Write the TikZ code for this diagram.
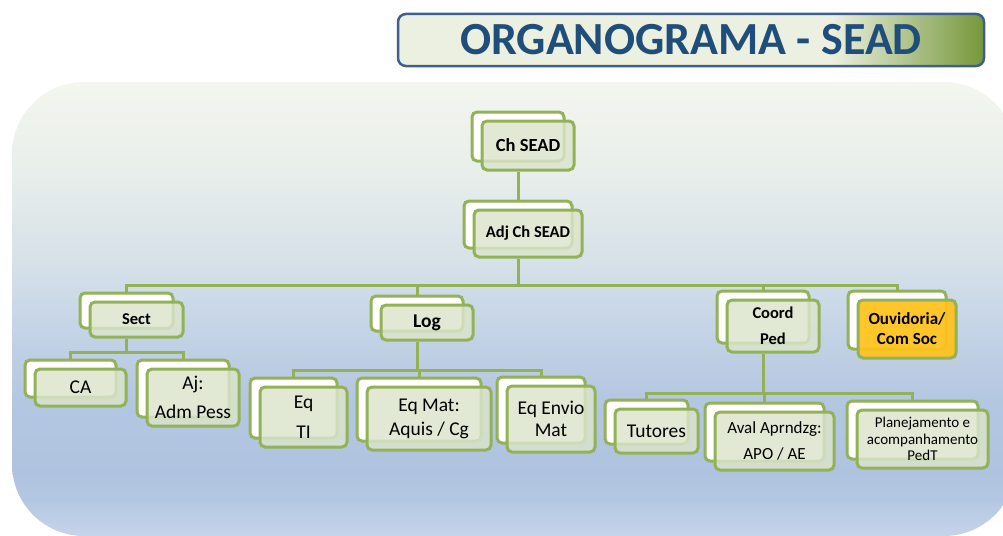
\documentclass[tikz,border=0pt]{standalone}
\usepackage{fontspec}
\setmainfont{Carlito}
\usetikzlibrary{shadows}

\definecolor{linegrn}{HTML}{93B257}
\definecolor{boxgrn}{HTML}{DBE5CB}
\definecolor{ouvyel}{HTML}{FFC21A}
\definecolor{ttlblue}{HTML}{1F4E7A}
\definecolor{ttlframe}{HTML}{3C5F8E}
\definecolor{ttlA}{HTML}{EBF0E0}
\definecolor{ttlB}{HTML}{76973A}
\definecolor{bgA}{HTML}{C6D4EA}
\definecolor{bgB}{HTML}{B4C7E2}
\definecolor{bgC}{HTML}{AFC3E0}
\definecolor{bgD}{HTML}{B4C7E1}
\definecolor{bgE}{HTML}{C5D4E6}
\definecolor{bgF}{HTML}{D8E2E8}
\definecolor{bgG}{HTML}{E9EFEB}
\definecolor{bgH}{HTML}{F4F6EF}

\pgfdeclareverticalshading{panelshade}{100bp}{color(0bp)=(bgA); color(25bp)=(bgA);
  color(29bp)=(bgB); color(32bp)=(bgC); color(40bp)=(bgD); color(48bp)=(bgE);
  color(56bp)=(bgF); color(66bp)=(bgG); color(75bp)=(bgH); color(100bp)=(bgH)}
\pgfdeclarehorizontalshading{titleshade}{100bp}{color(0bp)=(ttlA); color(62bp)=(ttlA);
  color(75bp)=(ttlB); color(100bp)=(ttlB)}

\begin{document}
\begin{tikzpicture}[x=1pt,y=-1pt,
    orgbox/.style={draw=linegrn, line width=3pt, rounded corners=5pt, fill=boxgrn,
      fill opacity=.82, text opacity=1, inner sep=0pt, align=center,
      general shadow={shadow xshift=-10pt, shadow yshift=9pt, fill=white,
        fill opacity=1, draw=linegrn, line width=3pt}},
    conn/.style={draw=linegrn, line width=3pt}]

  \useasboundingbox (0,0) rectangle (1003,535);
  \clip (0,0) rectangle (1003,535);

  % panel and title
  \shade[shading=panelshade, rounded corners=72pt] (12,82) rectangle (1016,536);
  \node (title) at (691,40) [draw=ttlframe, line width=2.5pt, rounded corners=8pt,
    shading=titleshade, minimum width=586pt, minimum height=52pt, inner sep=0pt,
    text=ttlblue, font=\bfseries\fontsize{46}{54}\selectfont] {ORGANOGRAMA - SEAD};

  \begin{scope}[every node/.style=orgbox]
    \node (ch)    at (528,145.5) [minimum width=92pt, minimum height=49pt,
      font=\bfseries\fontsize{18.5}{22}\selectfont] {Ch SEAD};
    \node (adj)   at (528,233.5) [minimum width=108pt, minimum height=47pt,
      font=\bfseries\fontsize{16.5}{20}\selectfont] {Adj Ch SEAD};

    \node (sect)  at (136.5,319.5) [minimum width=93pt, minimum height=35pt,
      font=\bfseries\fontsize{16.5}{20}\selectfont] {Sect};
    \node (log)   at (427,322.5) [minimum width=92pt, minimum height=35pt,
      font=\bfseries\fontsize{19.5}{23}\selectfont] {Log};
    \node (coord) at (773,326) [minimum width=92pt, minimum height=52pt,
      font=\bfseries\fontsize{16.5}{26}\selectfont] {Coord\\Ped};
    \node (ouv)   at (907,329) [minimum width=98pt, minimum height=58pt, fill=ouvyel,
      fill opacity=.92, font=\bfseries\fontsize{17}{20}\selectfont] {Ouvidoria/\\Com Soc};

    \node (ca)    at (80.5,387.5) [minimum width=91pt, minimum height=37pt,
      font=\fontsize{19.5}{24}\selectfont] {CA};
    \node (aj)    at (193,397.5) [minimum width=92pt, minimum height=57pt,
      font=\fontsize{19.5}{29}\selectfont] {Aj:\\Adm Pess};

    \node (eqti)  at (303.5,417) [minimum width=87pt, minimum height=60pt,
      font=\fontsize{19.5}{30}\selectfont] {Eq\\TI};
    \node (eqmat) at (429,418.5) [minimum width=124pt, minimum height=63pt,
      font=\fontsize{19.5}{24}\selectfont] {Eq Mat:\\Aquis / Cg};
    \node (eqenv) at (551,419) [minimum width=88pt, minimum height=66pt,
      font=\fontsize{19.5}{22.5}\selectfont] {Eq Envio\\Mat};

    \node (tut)   at (656.5,431) [minimum width=83pt, minimum height=44pt,
      font=\fontsize{19.5}{24}\selectfont] {Tutores};
    \node (aval)  at (774.5,441) [minimum width=119pt, minimum height=58pt,
      font=\fontsize{17}{26}\selectfont] {Aval Aprndzg:\\APO / AE};
    \node (plan)  at (922.5,439) [minimum width=131pt, minimum height=58pt,
      font=\fontsize{15}{16.5}\selectfont] {Planejamento e\\acompanhamento\\PedT};
  \end{scope}

  % connectors
  \draw[conn] ([xshift=-10pt]ch.south) -- ([xshift=-10pt,yshift=9pt]adj.north);

  \draw[conn] ([xshift=-10pt]adj.south) -- ++(0,27) -| ([xshift=-10pt,yshift=9pt]sect.north);
  \draw[conn] ([xshift=-10pt]adj.south) -- ++(0,27) -| ([xshift=-10pt,yshift=9pt]log.north);
  \draw[conn] ([xshift=-10pt]adj.south) -- ++(0,27) -| ([xshift=-10pt,yshift=9pt]coord.north);
  \draw[conn] ([xshift=-10pt]adj.south) -- ++(0,27) -| ([xshift=-10pt,yshift=9pt]ouv.north);

  \draw[conn] ([xshift=-10pt]sect.south) -- ++(0,14) -| ([xshift=-10pt,yshift=9pt]ca.north);
  \draw[conn] ([xshift=-10pt]sect.south) -- ++(0,14) -| ([xshift=-10pt,yshift=9pt]aj.north);

  \draw[conn] ([xshift=-10pt]log.south) -- ++(0,29) -| ([xshift=-10pt,yshift=9pt]eqti.north);
  \draw[conn] ([xshift=-10pt]log.south) -- ++(0,29) -| ([xshift=-10pt,yshift=9pt]eqmat.north);
  \draw[conn] ([xshift=-10pt]log.south) -- ++(0,29) -| ([xshift=-10pt,yshift=9pt]eqenv.north);

  \draw[conn] ([xshift=-10pt]coord.south) -- ++(0,40) -| ([xshift=-10pt,yshift=9pt]tut.north);
  \draw[conn] ([xshift=-10pt]coord.south) -- ++(0,40) -| ([xshift=-10pt,yshift=9pt]aval.north);
  \draw[conn] ([xshift=-10pt]coord.south) -- ++(0,40) -| ([xshift=-10pt,yshift=9pt]plan.north);

\end{tikzpicture}
\end{document}
